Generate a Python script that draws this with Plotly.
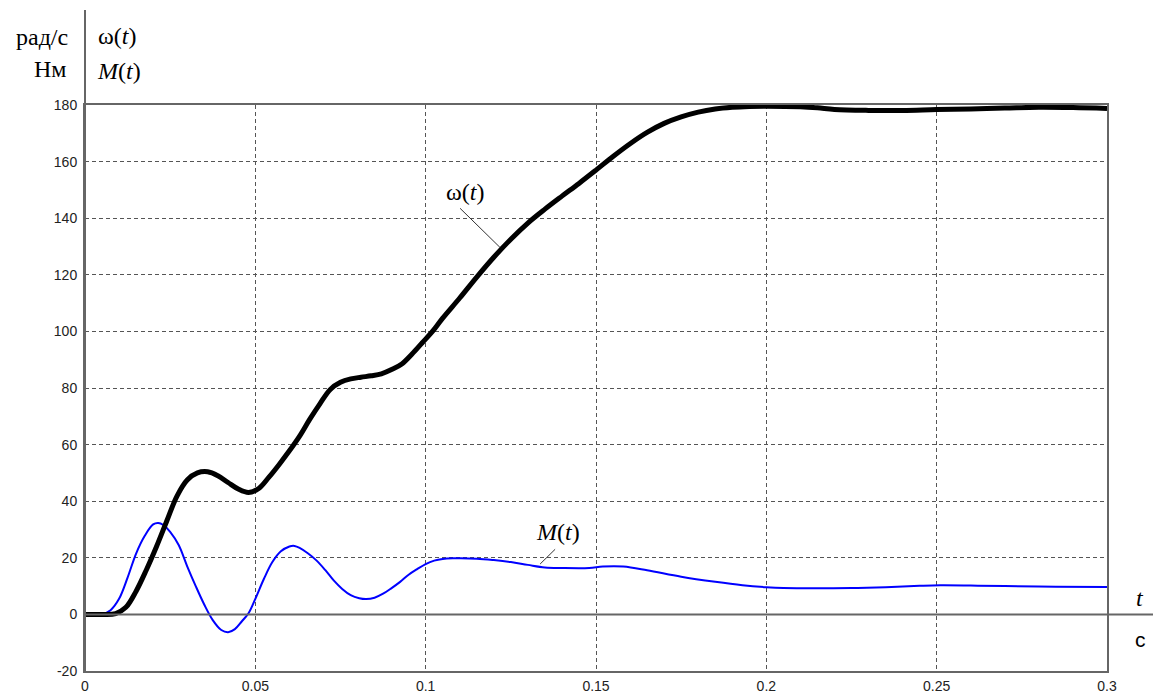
import plotly.graph_objects as go

# ---- data ----
t_omega = [0, 0.005, 0.009, 0.012, 0.015, 0.018, 0.021, 0.024, 0.027, 0.030,
           0.033, 0.036, 0.039, 0.042, 0.045, 0.048, 0.051, 0.054, 0.057, 0.060,
           0.063, 0.066, 0.069, 0.072, 0.075, 0.078, 0.081, 0.084, 0.087, 0.090,
           0.093, 0.096, 0.099, 0.102, 0.105, 0.110, 0.115, 0.120, 0.125, 0.130,
           0.135, 0.140, 0.145, 0.150, 0.155, 0.160, 0.165, 0.170, 0.175, 0.180,
           0.185, 0.190, 0.195, 0.200, 0.210, 0.215, 0.220, 0.230, 0.240, 0.250,
           0.260, 0.270, 0.280, 0.290, 0.300]
omega = [0, 0, 0.3, 2.5, 8.2, 15.7, 24.0, 33.0, 41.8, 47.5,
         50.0, 50.4, 49.0, 46.6, 44.3, 43.1, 44.5, 48.5, 53.0, 57.8,
         63.0, 69.0, 74.5, 79.5, 82.0, 83.2, 83.8, 84.3, 85.0, 86.5,
         88.5, 92.0, 96.0, 100.0, 104.7, 111.8, 119.2, 126.2, 132.6, 138.3,
         143.2, 147.8, 152.3, 157.0, 161.8, 166.3, 170.3, 173.5, 175.8, 177.5,
         178.6, 179.2, 179.5, 179.6, 179.4, 179.0, 178.4, 178.1, 178.1, 178.4,
         178.6, 178.9, 179.2, 179.1, 178.8]

t_m = [0, 0.005, 0.0075, 0.010, 0.0125, 0.015, 0.0175, 0.020, 0.0215, 0.023,
       0.025, 0.0275, 0.030, 0.0325, 0.035, 0.0375, 0.040, 0.042, 0.044, 0.046,
       0.048, 0.050, 0.0525, 0.055, 0.0575, 0.060, 0.0615, 0.063, 0.0655, 0.068,
       0.0705, 0.073, 0.0755, 0.078, 0.0805, 0.0825, 0.085, 0.0875, 0.090, 0.0925,
       0.095, 0.0975, 0.100, 0.1025, 0.105, 0.108, 0.115, 0.120, 0.125, 0.130,
       0.135, 0.140, 0.148, 0.152, 0.158, 0.165, 0.175, 0.185, 0.193, 0.200,
       0.205, 0.215, 0.225, 0.235, 0.245, 0.251, 0.260, 0.270, 0.285, 0.300]
moment = [0, 0.1, 1.5, 5.5, 13.0, 21.5, 27.7, 31.8, 32.3, 31.6,
          29.2, 24.5, 17.0, 10.0, 3.5, -2.0, -5.5, -6.3, -5.2, -2.5,
          0.4, 5.5, 12.5, 18.5, 22.3, 24.0, 24.2, 23.5, 21.5, 19.0,
          15.7, 12.0, 9.0, 6.8, 5.7, 5.4, 5.9, 7.3, 9.3, 11.5,
          14.0, 16.0, 17.8, 19.0, 19.6, 19.8, 19.7, 19.2, 18.5, 17.5,
          16.6, 16.4, 16.4, 16.9, 16.9, 15.6, 13.3, 11.5, 10.3, 9.6,
          9.3, 9.2, 9.3, 9.6, 10.1, 10.3, 10.2, 10.0, 9.8, 9.7]

x_ticks = [0, 0.05, 0.1, 0.15, 0.2, 0.25, 0.3]
x_tick_labels = ["0", "0.05", "0.1", "0.15", "0.2", "0.25", "0.3"]
y_ticks = [-20, 0, 20, 40, 60, 80, 100, 120, 140, 160, 180]
y_tick_labels = ["-20", "0", "20", "40", "60", "80", "100", "120", "140", "160", "180"]

# ---- figure ----
W, H = 1153, 693
L, R, T, B = 85, 46, 105, 22
pw, ph = W - L - R, H - T - B

def px(xp):
    return (xp - L) / pw

def py(yp):
    return (H - B - yp) / ph

frame = "#666666"
serif = "Liberation Serif"
sans = "Liberation Sans"

fig = go.Figure()
fig.add_trace(go.Scatter(x=t_m, y=moment, mode="lines",
                         line=dict(color="#0000FF", width=2, shape="spline", smoothing=1.0),
                         showlegend=False, hoverinfo="skip"))
fig.add_trace(go.Scatter(x=t_omega, y=omega, mode="lines",
                         line=dict(color="#000000", width=5, shape="spline", smoothing=1.0),
                         showlegend=False, hoverinfo="skip"))

tickfont = dict(family=sans, size=14, color="#222222")
fig.update_layout(
    width=W, height=H,
    margin=dict(l=L, r=R, t=T, b=B, autoexpand=False),
    paper_bgcolor="white", plot_bgcolor="white",
    xaxis=dict(range=[0, 0.3], tickvals=x_ticks, ticktext=x_tick_labels,
               showgrid=True, gridcolor="#555555", griddash="4px,3px", gridwidth=1,
               showline=True, linecolor=frame, linewidth=2, mirror=True,
               zeroline=False, ticks="", ticklabelstandoff=1, tickfont=tickfont),
    yaxis=dict(range=[-20, 180], tickvals=y_ticks, ticktext=y_tick_labels,
               showgrid=True, gridcolor="#555555", griddash="4px,3px", gridwidth=1,
               showline=True, linecolor=frame, linewidth=2, mirror=True,
               zeroline=False, ticks="", ticklabelstandoff=3, tickfont=tickfont),
)

shapes = [
    dict(type="line", xref="paper", yref="y", x0=0, x1=px(W), y0=0, y1=0,
         line=dict(color=frame, width=2)),
    dict(type="line", xref="paper", yref="paper", x0=0, x1=0, y0=0, y1=py(10),
         line=dict(color=frame, width=2)),
    dict(type="line", xref="x", yref="y", x0=0.1101, y0=143.5, x1=0.1218, y1=129.7,
         line=dict(color="#333333", width=1)),
    dict(type="line", xref="x", yref="y", x0=0.138, y0=23.0, x1=0.1336, y1=17.8,
         line=dict(color="#333333", width=1)),
]
fig.update_layout(shapes=shapes)

ann_font = dict(family=serif, size=24, color="#000000")
annotations = [
    dict(text="рад/с", xref="paper", yref="paper", x=px(70), y=py(37),
         xanchor="right", yanchor="middle", showarrow=False, font=ann_font),
    dict(text="Нм", xref="paper", yref="paper", x=px(69), y=py(69),
         xanchor="right", yanchor="middle", showarrow=False, font=ann_font),
    dict(text="ω(<i>t</i>)", xref="paper", yref="paper", x=px(96), y=py(36),
         xanchor="left", yanchor="middle", showarrow=False, font=ann_font),
    dict(text="<i>M</i>(<i>t</i>)", xref="paper", yref="paper", x=px(95), y=py(71),
         xanchor="left", yanchor="middle", showarrow=False, font=ann_font),
    dict(text="<i>t</i>", xref="paper", yref="paper", x=px(1140), y=py(598),
         xanchor="center", yanchor="middle", showarrow=False, font=ann_font),
    dict(text="с", xref="paper", yref="paper", x=px(1140), y=py(639),
         xanchor="center", yanchor="middle", showarrow=False,
         font=dict(family=sans, size=21, color="#000000")),
    dict(text="ω(<i>t</i>)", xref="x", yref="y", x=0.1115, y=149.4,
         xanchor="center", yanchor="middle", showarrow=False, font=ann_font),
    dict(text="<i>M</i>(<i>t</i>)", xref="x", yref="y", x=0.1387, y=29.2,
         xanchor="center", yanchor="middle", showarrow=False, font=ann_font),
]
fig.update_layout(annotations=annotations)

fig.write_html("out.html", config={"displayModeBar": False},
               post_script="document.body.style.margin='0';document.body.style.overflow='hidden';")
